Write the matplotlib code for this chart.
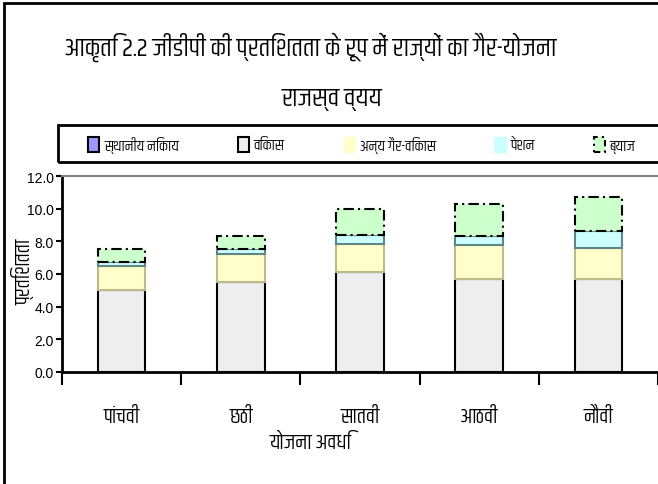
import matplotlib
matplotlib.use("Agg")
import matplotlib.pyplot as plt
from matplotlib.patches import Rectangle, Patch
import numpy as np

# ---- data ----
categories = ["पांचवी", "छठी", "सातवी", "आठवी", "नौवी"]
series_names = ["स्थानीय निकाय", "विकास", "अन्य गैर-विकास", "पेंशन", "ब्याज"]
local_bodies = [0.0, 0.0, 0.0, 0.0, 0.0]
development = [5.0, 5.5, 6.15, 5.7, 5.7]
other_nondev = [1.5, 1.7, 1.7, 2.05, 1.9]
pension = [0.25, 0.35, 0.55, 0.6, 1.05]
interest = [0.8, 0.8, 1.6, 1.95, 2.05]
yticks = [0, 2, 4, 6, 8, 10, 12]
title_line1 = "आकृति 2.2 जीडीपी की प्रतिशतता के रूप में राज्यों का गैर-योजना"
title_line2 = "राजस्व व्यय"
xlabel = "योजना अवधि"
ylabel = "प्रतिशतता"

fam = ["Khand", "Noto Sans Devanagari", "DejaVu Sans"]
numfam = ["Liberation Sans Narrow", "Liberation Sans", "DejaVu Sans"]
plt.rcParams["font.family"] = fam

W, H = 658, 485
fig = plt.figure(figsize=(W / 100, H / 100), dpi=100)

def fx(px):
    return px / W

def fy(py):
    return 1 - py / H

# outer frame (only left & top visible)
fig.patches.append(Rectangle((fx(4), fy(700)), 2, fy(4) - fy(700), transform=fig.transFigure,
                             fill=False, edgecolor="black", linewidth=2.0))
# legend frame (extends past right edge)
fig.patches.append(Rectangle((fx(58), fy(163)), 2, fy(126) - fy(163), transform=fig.transFigure,
                             fill=False, edgecolor="black", linewidth=2.0))

ax_l, ax_r, ax_t, ax_b = 62, 658, 177, 373
ax = fig.add_axes([fx(ax_l), fy(ax_b), fx(ax_r - ax_l), fy(ax_t) - fy(ax_b)])

x = np.arange(len(categories))
w = 0.40
b0 = np.zeros(len(categories))
ax.bar(x, local_bodies, w, bottom=b0, color="#9999FF", edgecolor="black", linewidth=1.5, zorder=2)
b1 = b0 + np.array(local_bodies)
ax.bar(x, development, w, bottom=b1, color="#EEEEEE", edgecolor="black", linewidth=1.5, zorder=2)
b2 = b1 + np.array(development)
ax.bar(x, other_nondev, w, bottom=b2, color="#FFFFCC", edgecolor="#BDBB8C", linewidth=1.5, zorder=3)
b3 = b2 + np.array(other_nondev)
ax.bar(x, pension, w, bottom=b3, color="#CCFFFF", edgecolor="#5F8585", linewidth=1.5, zorder=4)
b4 = b3 + np.array(pension)
ax.bar(x, interest, w, bottom=b4, color="#CCFFCC", edgecolor="black", linewidth=1.5,
       linestyle=(0, (5, 2, 1, 2)), zorder=5)

ax.set_xlim(-0.5, len(categories) - 0.5)
ax.set_ylim(0, 12)
ax.set_yticks(yticks)
ax.set_yticklabels([f"{v:.1f}" for v in yticks], fontfamily=numfam, fontsize=10)
ax.set_xticks(np.arange(len(categories) + 1) - 0.5)
ax.set_xticklabels([])
ax.tick_params(axis="x", direction="out", length=9, width=1.5, colors="black")
ax.tick_params(axis="y", direction="out", length=4, width=1.5, pad=2)
for i, c in enumerate(categories):
    ax.text(i, -2.65, c, ha="center", va="center", fontsize=15, fontfamily=fam)
ax.spines["left"].set_linewidth(2)
ax.spines["bottom"].set_linewidth(2)
ax.spines["top"].set_color("#808080")
ax.spines["top"].set_linewidth(1.5)
ax.spines["right"].set_visible(False)

fig.text(fx(310), fy(47), title_line1, ha="center", va="center", fontsize=19)
fig.text(fx(332), fy(100), title_line2, ha="center", va="center", fontsize=19)
fig.text(fx(310), fy(443), xlabel, ha="center", va="center", fontsize=15)
fig.text(fx(23), fy(272), ylabel, ha="center", va="center", fontsize=15, rotation=90)

handles = [
    Patch(facecolor="#9999FF", edgecolor="black", linewidth=1.5),
    Patch(facecolor="#EEEEEE", edgecolor="black", linewidth=1.5),
    Patch(facecolor="#FFFFCC", edgecolor="#FFFFCC", linewidth=1.0),
    Patch(facecolor="#CCFFFF", edgecolor="#CCFFFF", linewidth=1.0),
    Patch(facecolor="#CCFFCC", edgecolor="black", linewidth=1.5, linestyle=(0, (3, 2, 1, 2))),
]
leg = fig.legend(handles, series_names, loc="center left",
                 bbox_to_anchor=(fx(88), fy(145)),
                 ncol=5, fontsize=11, frameon=False,
                 handlelength=0.75, handleheight=1.1, handletextpad=0.3, borderaxespad=0,
                 borderpad=0.0, columnspacing=3.85)

fig.savefig("out.png", dpi=100)
